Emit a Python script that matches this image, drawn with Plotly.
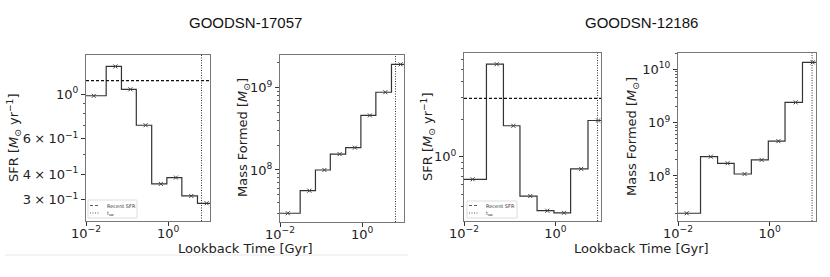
import plotly.graph_objects as go

# lookback-time bin edges [Gyr]; the first bin starts at 0
bin_edges = [0.0, 0.031, 0.073, 0.168, 0.398, 0.933, 2.16, 5.19, 12.1]

galaxies = ["GOODSN-17057", "GOODSN-12186"]

sfr_17057 = [0.98, 1.37, 1.055, 0.70, 0.358, 0.385, 0.312, 0.287]
mass_17057 = [2.98e7, 5.6e7, 1.0e8, 1.56e8, 1.87e8, 4.6e8, 8.8e8, 1.92e9]
recent_sfr_17057 = 1.164
t_sw_17057 = 6.5

sfr_12186 = [0.66, 5.5, 1.77, 0.485, 0.37, 0.356, 0.80, 1.95]
mass_12186 = [2.0e7, 2.3e8, 1.73e8, 1.09e8, 2.0e8, 4.5e8, 2.4e9, 1.35e10]
recent_sfr_12186 = 2.93
t_sw_12186 = 8.4

W, H = 830, 277
FONT = "DejaVu Sans"
INK = "#222"


def px(x0, x1):
    return [x0 / W, x1 / W]


def py(y0, y1):
    return [1 - y1 / H, 1 - y0 / H]


def sup(base, exp):
    return f"{base}<sup>{exp}</sup>"


def times(m, exp):
    return f"{m}\u2005×\u2005" + sup("10", exp)


def add_steps(fig, xa, ya, values, t_sw, recent=None):
    xs = [max(e, 1e-3) for e in bin_edges]
    ys = list(values) + [values[-1]]
    fig.add_trace(go.Scatter(
        x=xs, y=ys, mode="lines", line=dict(shape="hv", color="#333", width=1.2),
        xaxis=xa, yaxis=ya, showlegend=False, hoverinfo="skip",
    ))
    mids = [(a + b) / 2 for a, b in zip(bin_edges[:-1], bin_edges[1:])]
    fig.add_trace(go.Scatter(
        x=mids, y=values, mode="markers",
        marker=dict(symbol="x-thin", size=4, line=dict(width=1, color="#444")),
        xaxis=xa, yaxis=ya, showlegend=False,
    ))
    fig.add_shape(type="line", xref=xa, yref=f"{ya} domain", x0=t_sw, x1=t_sw, y0=0, y1=1,
                  line=dict(color="#333", width=1, dash="1px,1.5px"))
    if recent is not None:
        fig.add_shape(type="line", xref=f"{xa} domain", yref=ya, x0=0, x1=1, y0=recent, y1=recent,
                      line=dict(color="#111", width=1.2, dash="3px,2px"))


fig = go.Figure()
add_steps(fig, "x", "y", sfr_17057, t_sw_17057, recent_sfr_17057)
add_steps(fig, "x2", "y2", mass_17057, t_sw_17057)
add_steps(fig, "x3", "y3", sfr_12186, t_sw_12186, recent_sfr_12186)
add_steps(fig, "x4", "y4", mass_12186, t_sw_12186)

xtick = dict(tickvals=[0.01, 1], ticktext=[sup("10", "−2"), sup("10", "0")], ticklabelstandoff=-4)
axis_common = dict(
    type="log", showgrid=False, zeroline=False, showline=True, linecolor="#777", linewidth=1,
    mirror=True, ticks="outside", ticklen=4, tickcolor="#333", automargin=False,
    tickfont=dict(family=FONT, size=13, color=INK),
)
minor_common = dict(ticks="outside", ticklen=2, tickcolor="#555", tickmode="array")

panels = [
    # x domain px, y domain px, x range, y range, y ticks, y minor ticks
    ((86, 210), (55, 221), [-2, 1.02], [-0.630, 0.1935],
     [0.3, 0.4, 0.6, 1], [times(3, "−1"), times(4, "−1"), times(6, "−1"), sup("10", "0")],
     [0.5, 0.7, 0.8, 0.9]),
    ((280, 404), (55, 222), [-2, 1.02], [7.368, 9.397],
     [1e8, 1e9], [sup("10", "8"), sup("10", "9")],
     [k * 1e7 for k in range(3, 10)] + [k * 1e8 for k in range(2, 10)] + [2e9]),
    ((464, 601), (53, 221), [-2, 1.0], [-0.514, 0.83],
     [1], [sup("10", "0")],
     [0.4, 0.5, 0.6, 0.7, 0.8, 0.9, 2, 3, 4, 5, 6]),
    ((678, 816), (53, 221), [-2, 1.01], [7.156, 10.306],
     [1e8, 1e9, 1e10], [sup("10", "8"), sup("10", "9"), sup("10", "10")],
     [k * 1e7 for k in range(2, 10)] + [k * 1e8 for k in range(2, 10)]
     + [k * 1e9 for k in range(2, 10)] + [2e10]),
]

layout = {}
for i, (xd, yd, xr, yr, yv, yt, ym) in enumerate(panels, start=1):
    sfx = "" if i == 1 else str(i)
    layout[f"xaxis{sfx}"] = dict(axis_common, domain=px(*xd), range=xr, anchor=f"y{sfx}", **xtick)
    layout[f"yaxis{sfx}"] = dict(axis_common, domain=py(*yd), range=yr, anchor=f"x{sfx}",
                                 tickvals=yv, ticktext=yt,
                                 minor=dict(minor_common, tickvals=ym))

fig.update_layout(
    width=W, height=H, margin=dict(l=0, r=0, t=0, b=0, autoexpand=False),
    template="none", showlegend=False,
    paper_bgcolor="white", plot_bgcolor="white",
    font=dict(family=FONT, size=13, color=INK),
    **layout,
)

ann = []


def label(text, x, y, size=13, family=FONT, angle=0, color=INK, xanchor="center"):
    ann.append(dict(text=text, x=x / W, y=1 - y / H, xref="paper", yref="paper",
                    xanchor=xanchor, yanchor="middle", showarrow=False, textangle=angle,
                    font=dict(family=family, size=size, color=color)))


# galaxy titles and shared x titles
for name, cx in zip(galaxies, [245, 641]):
    label(name, cx, 22, size=15, family="Liberation Sans", color="#111")
    label("Lookback Time [Gyr]", cx, 248)

# y-axis titles
ytitles = [("SFR [<i>M</i><sub>⊙</sub> yr<sup>−1</sup>]", 14, 138),
           ("Mass Formed [<i>M</i><sub>⊙</sub>]", 243, 138),
           ("SFR [<i>M</i><sub>⊙</sub> yr<sup>−1</sup>]", 428, 137),
           ("Mass Formed [<i>M</i><sub>⊙</sub>]", 633, 137)]
for text, cx, cy in ytitles:
    label(text, cx, cy, angle=-90)

# small legends inside the SFR panels
for bx0, bx1, by0, by1 in [(88, 137, 200, 218), (467, 517, 201, 218)]:
    fig.add_shape(type="rect", xref="paper", yref="paper", x0=bx0 / W, x1=bx1 / W,
                  y0=1 - by1 / H, y1=1 - by0 / H, line=dict(color="#ddd", width=1),
                  fillcolor="rgba(255,255,255,0.8)")
    for ly, dash, text in [(205.5, "3px,2px", "Recent SFR"), (213, "1px,1.5px", "t<sub>sw</sub>")]:
        fig.add_shape(type="line", xref="paper", yref="paper", x0=(bx0 + 2) / W, x1=(bx0 + 12) / W,
                      y0=1 - ly / H, y1=1 - ly / H, line=dict(color="#333", width=0.8, dash=dash))
        label(text, bx0 + 17, ly, size=5, color="#333", xanchor="left")

# faint separator line under the left pair
fig.add_shape(type="line", xref="paper", yref="paper", x0=5 / W, x1=408 / W,
              y0=1 - 255 / H, y1=1 - 255 / H, line=dict(color="#e6e6e6", width=1))

fig.update_layout(annotations=ann)
fig.write_html("out.html", config={"displayModeBar": False},
               post_script="document.body.style.margin='0px';")
